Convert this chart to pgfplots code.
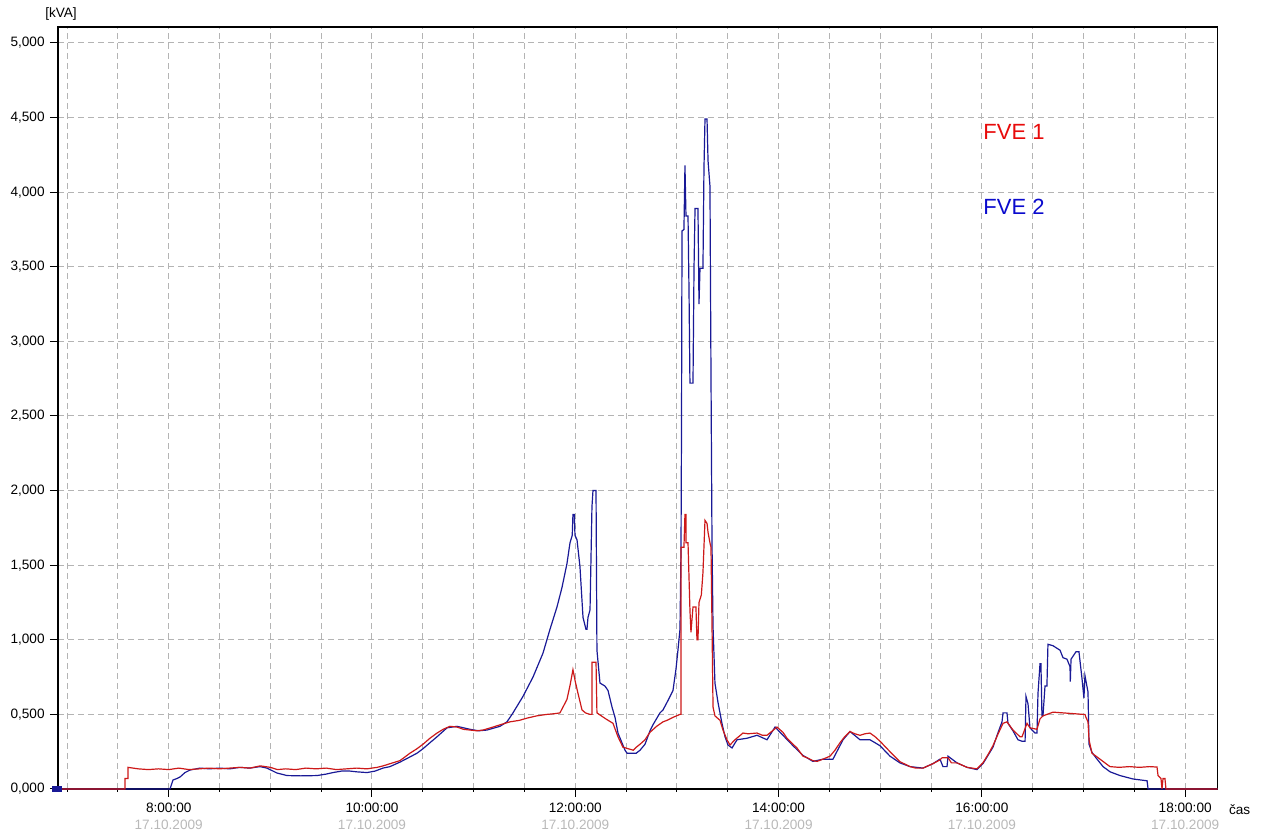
\documentclass[border=0pt]{standalone}
\usepackage{pgfplots}
\pgfplotsset{compat=1.18}
\usepackage{fontspec}
\setmainfont{Liberation Sans}
\definecolor{fveRed}{RGB}{205,25,25}
\definecolor{fveBlue}{RGB}{25,25,150}
\definecolor{txtRed}{RGB}{232,10,10}
\definecolor{txtBlue}{RGB}{10,10,205}
\definecolor{gridGray}{RGB}{180,180,180}
\definecolor{dateGray}{RGB}{185,185,185}
\begin{document}
\begin{tikzpicture}
\begin{axis}[
  scale only axis, width=579.85pt, height=381pt,
  xmin=6.911, xmax=18.32, ymin=0, ymax=5.107,
  axis line style={line width=0.6pt},
  clip=false,
  tick pos=left,
  xtick={8,10,12,14,16,18},
  xticklabels={{8:00:00\\\textcolor{dateGray}{17.10.2009}},
               {10:00:00\\\textcolor{dateGray}{17.10.2009}},
               {12:00:00\\\textcolor{dateGray}{17.10.2009}},
               {14:00:00\\\textcolor{dateGray}{17.10.2009}},
               {16:00:00\\\textcolor{dateGray}{17.10.2009}},
               {18:00:00\\\textcolor{dateGray}{17.10.2009}}},
  minor xtick={7,7.5,...,18},
  ytick={0,0.5,1,1.5,2,2.5,3,3.5,4,4.5,5},
  yticklabels={{0,000},{0,500},{1,000},{1,500},{2,000},{2,500},{3,000},{3,500},{4,000},{4,500},{5,000}},
  grid=both,
  major grid style={gridGray, dash pattern=on 3pt off 2pt, line width=0.5pt},
  minor grid style={gridGray, dash pattern=on 3pt off 2pt, line width=0.5pt},
  tick align=outside,
  major tick length=4pt, minor tick length=1.5pt,
  tick style={black, line width=0.5pt},
  xticklabel style={align=center, font=\fontsize{6.8}{8.5}\selectfont, inner sep=1pt, yshift=-2pt},
  yticklabel style={font=\fontsize{6.8}{8}\selectfont, inner sep=1pt, xshift=-1.5pt},
]
% FVE 2 (blue)
\addplot[fveBlue, line width=0.6pt] coordinates {
(6.911,0) (8.013,0) (8.042,0.06) (8.08,0.07) (8.111,0.08) (8.16,0.11) (8.210,0.127) (8.308,0.14)
(8.40,0.135) (8.50,0.14) (8.60,0.135) (8.70,0.145) (8.80,0.14) (8.898,0.15) (8.967,0.14)
(9.065,0.107) (9.164,0.09) (9.30,0.088) (9.459,0.09) (9.55,0.10) (9.616,0.11) (9.70,0.12)
(9.784,0.12) (9.85,0.115) (9.951,0.11) (10.03,0.12) (10.108,0.14) (10.177,0.15) (10.275,0.18)
(10.374,0.215) (10.443,0.24) (10.502,0.27) (10.57,0.31) (10.640,0.35) (10.738,0.41) (10.836,0.42)
(10.90,0.41) (10.964,0.40) (11.05,0.39) (11.131,0.395) (11.259,0.42) (11.328,0.45) (11.387,0.51)
(11.485,0.62) (11.584,0.75) (11.682,0.91) (11.751,1.07) (11.820,1.22) (11.869,1.35) (11.918,1.51)
(11.948,1.65) (11.970,1.70) (11.977,1.84) (11.99,1.84) (11.997,1.70) (12.017,1.67) (12.046,1.49)
(12.076,1.15) (12.105,1.07) (12.115,1.07) (12.125,1.15) (12.145,1.20) (12.164,1.89) (12.174,2.0)
(12.204,2.0) (12.213,0.93) (12.243,0.71) (12.292,0.69) (12.322,0.66) (12.361,0.55) (12.391,0.48)
(12.420,0.375) (12.459,0.31) (12.489,0.26) (12.509,0.24) (12.60,0.24) (12.637,0.26) (12.686,0.30)
(12.735,0.39) (12.764,0.43) (12.833,0.51) (12.863,0.53) (12.902,0.58) (12.961,0.66) (12.99,0.80)
(13.010,0.93) (13.030,1.07) (13.040,1.60) (13.045,2.43) (13.050,3.74) (13.069,3.75) (13.079,4.18)
(13.089,3.84) (13.109,3.84) (13.119,3.33) (13.128,2.72) (13.158,2.72) (13.168,3.49) (13.178,3.89)
(13.207,3.89) (13.217,3.25) (13.227,3.49) (13.256,3.49) (13.266,4.16) (13.276,4.49) (13.296,4.49)
(13.306,4.21) (13.325,4.04) (13.335,2.78) (13.345,1.65) (13.355,1.09) (13.374,0.71) (13.404,0.58)
(13.443,0.44) (13.473,0.35) (13.502,0.295) (13.542,0.275) (13.591,0.33) (13.689,0.34) (13.788,0.36)
(13.886,0.33) (13.965,0.415) (14.043,0.36) (14.142,0.29) (14.240,0.225) (14.338,0.185) (14.437,0.20)
(14.535,0.20) (14.634,0.33) (14.703,0.385) (14.801,0.33) (14.899,0.33) (14.998,0.29) (15.096,0.22)
(15.194,0.175) (15.293,0.15) (15.421,0.14) (15.519,0.17) (15.588,0.20) (15.617,0.15) (15.657,0.15)
(15.667,0.22) (15.755,0.175) (15.854,0.145) (15.952,0.13) (16.011,0.17) (16.109,0.28) (16.16,0.38)
(16.198,0.45) (16.208,0.51) (16.247,0.51) (16.257,0.44) (16.306,0.39) (16.355,0.33) (16.395,0.32)
(16.425,0.32) (16.434,0.62) (16.454,0.57) (16.473,0.41) (16.522,0.375) (16.542,0.375) (16.552,0.64)
(16.572,0.84) (16.581,0.84) (16.591,0.49) (16.601,0.49) (16.621,0.69) (16.640,0.69) (16.650,0.97)
(16.700,0.96) (16.769,0.93) (16.798,0.88) (16.837,0.87) (16.867,0.82) (16.870,0.72) (16.877,0.87)
(16.926,0.92) (16.955,0.92) (16.985,0.74) (17.004,0.61) (17.014,0.76) (17.044,0.65) (17.054,0.30)
(17.083,0.245) (17.133,0.20) (17.192,0.15) (17.261,0.115) (17.359,0.09) (17.487,0.067) (17.625,0.055)
(17.635,0) (18.32,0)
};
% FVE 1 (red)
\addplot[fveRed, line width=0.6pt] coordinates {
(6.911,0) (7.570,0) (7.570,0.07) (7.60,0.07) (7.60,0.145) (7.70,0.135) (7.80,0.13) (7.90,0.135)
(8.00,0.13) (8.10,0.14) (8.20,0.13) (8.30,0.135) (8.40,0.14) (8.50,0.135) (8.60,0.14) (8.70,0.145)
(8.80,0.14) (8.90,0.155) (9.00,0.145) (9.07,0.13) (9.15,0.135) (9.25,0.13) (9.35,0.14) (9.45,0.135)
(9.55,0.14) (9.65,0.13) (9.75,0.135) (9.85,0.14) (9.95,0.135) (10.05,0.145) (10.11,0.155)
(10.18,0.17) (10.275,0.19) (10.374,0.24) (10.443,0.27) (10.502,0.30) (10.57,0.34) (10.64,0.375)
(10.70,0.40) (10.767,0.42) (10.836,0.415) (10.90,0.40) (10.964,0.395) (11.03,0.39) (11.092,0.395)
(11.19,0.415) (11.259,0.43) (11.357,0.45) (11.45,0.46) (11.525,0.475) (11.62,0.49) (11.721,0.50)
(11.80,0.505) (11.849,0.51) (11.918,0.60) (11.950,0.70) (11.977,0.80) (12.00,0.72) (12.027,0.64)
(12.066,0.53) (12.10,0.51) (12.145,0.50) (12.164,0.50) (12.164,0.85) (12.204,0.85) (12.213,0.51)
(12.30,0.47) (12.371,0.44) (12.42,0.35) (12.469,0.28) (12.52,0.27) (12.57,0.26) (12.60,0.28)
(12.637,0.30) (12.686,0.33) (12.735,0.38) (12.80,0.42) (12.863,0.45) (12.902,0.46) (12.961,0.48)
(13.030,0.50) (13.040,0.50) (13.040,1.62) (13.069,1.62) (13.079,1.84) (13.089,1.84) (13.09,1.65)
(13.109,1.65) (13.128,1.20) (13.138,1.05) (13.158,1.22) (13.187,1.22) (13.197,1.0) (13.207,1.0)
(13.217,1.25) (13.24,1.30) (13.256,1.45) (13.276,1.80) (13.296,1.78) (13.306,1.72) (13.325,1.65)
(13.335,1.62) (13.345,1.10) (13.355,0.55) (13.374,0.49) (13.424,0.46) (13.453,0.395) (13.492,0.33)
(13.522,0.295) (13.571,0.33) (13.650,0.375) (13.70,0.37) (13.788,0.375) (13.84,0.36) (13.886,0.36)
(13.94,0.39) (13.984,0.415) (14.043,0.38) (14.083,0.34) (14.142,0.30) (14.181,0.275) (14.240,0.22)
(14.279,0.21) (14.338,0.19) (14.378,0.185) (14.437,0.20) (14.506,0.22) (14.555,0.26) (14.604,0.31)
(14.65,0.35) (14.703,0.385) (14.75,0.37) (14.801,0.36) (14.85,0.37) (14.899,0.375) (14.95,0.35)
(14.998,0.32) (15.096,0.25) (15.194,0.183) (15.293,0.15) (15.35,0.14) (15.421,0.14) (15.519,0.17)
(15.588,0.195) (15.61,0.21) (15.667,0.21) (15.70,0.175) (15.755,0.175) (15.854,0.145) (15.952,0.135)
(16.011,0.176) (16.06,0.23) (16.109,0.29) (16.16,0.37) (16.208,0.44) (16.247,0.45) (16.306,0.395)
(16.375,0.35) (16.395,0.35) (16.444,0.44) (16.473,0.41) (16.542,0.40) (16.572,0.47) (16.601,0.49)
(16.700,0.515) (16.80,0.51) (16.90,0.505) (16.995,0.50) (17.014,0.50) (17.024,0.48) (17.044,0.45)
(17.054,0.33) (17.083,0.24) (17.162,0.20) (17.24,0.16) (17.261,0.15) (17.35,0.145) (17.45,0.15)
(17.55,0.145) (17.65,0.15) (17.723,0.147) (17.733,0.09) (17.762,0.07) (17.772,0.0) (17.782,0.07)
(17.801,0.07) (17.811,0) (18.32,0)
};
\addplot[only marks, mark=square*, mark size=1.3pt, mark options={xscale=1.9}, fveBlue] coordinates {(6.90,0)};
\node[anchor=west, text=txtRed, font=\fontsize{11}{13}\selectfont, inner sep=0pt] at (axis cs:16.011,4.403) {FVE 1};
\node[anchor=west, text=txtBlue, font=\fontsize{11}{13}\selectfont, inner sep=0pt] at (axis cs:16.011,3.90) {FVE 2};
\node[font=\fontsize{6.8}{8}\selectfont, inner sep=0pt] at ([xshift=1.5pt,yshift=6.5pt]rel axis cs:0,1) {[kVA]};
\node[font=\fontsize{6.8}{8}\selectfont, inner sep=0pt] at ([xshift=11pt,yshift=-10.5pt]rel axis cs:1,0) {čas};
\end{axis}
\pgfresetboundingbox
\path[use as bounding box] (-29pt,-22.5pt) rectangle (603.5pt,394.5pt);
\end{tikzpicture}
\end{document}
